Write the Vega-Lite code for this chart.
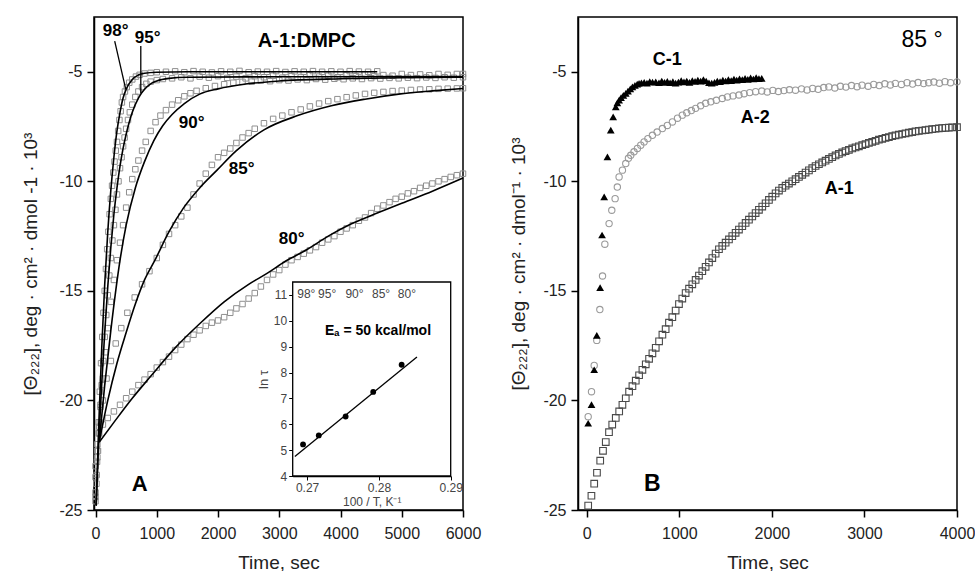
{
"$schema": "https://vega.github.io/schema/vega-lite/v6.json",
"padding": {"left": 21, "top": 16, "right": 5, "bottom": 0},
"spacing": 27,
"config": {
  "view": {"stroke": "black", "strokeWidth": 1.5},
  "axis": {"grid": false, "labelFont": "Liberation Sans", "labelFontSize": 16, "labelColor": "#222", "titleFont": "Liberation Sans", "titleFontSize": 19, "titleFontWeight": "normal", "titleColor": "#222", "tickSize": 7, "labelPadding": 5, "titlePadding": 8, "domainColor": "black", "tickColor": "black", "domainWidth": 1.5, "tickWidth": 1.5, "labelFlush": false, "labelOverlap": false},
  "text": {"font": "Liberation Sans", "color": "black"},
  "locale": {"number": {"decimal": ".", "thousands": ",", "grouping": [3], "currency": ["$", ""], "minus": "-"}}
},
"datasets": {
  "Asq": [
    {"s":"98","t":0,"v":-24.6},{"s":"98","t":15,"v":-23.8},{"s":"98","t":30,"v":-22.6},{"s":"98","t":50,"v":-21.0},{"s":"98","t":70,"v":-19.6},{"s":"98","t":90,"v":-18.3},{"s":"98","t":110,"v":-17.1},{"s":"98","t":130,"v":-16.0},{"s":"98","t":150,"v":-15.0},{"s":"98","t":170,"v":-14.0},{"s":"98","t":190,"v":-13.1},{"s":"98","t":210,"v":-12.3},{"s":"98","t":230,"v":-11.5},{"s":"98","t":250,"v":-10.8},{"s":"98","t":270,"v":-10.2},{"s":"98","t":290,"v":-9.6},{"s":"98","t":310,"v":-9.1},{"s":"98","t":330,"v":-8.6},{"s":"98","t":350,"v":-8.2},{"s":"98","t":370,"v":-7.7},{"s":"98","t":390,"v":-7.2},{"s":"98","t":410,"v":-6.8},{"s":"98","t":430,"v":-6.4},{"s":"98","t":450,"v":-6.15},{"s":"98","t":480,"v":-5.9},{"s":"98","t":510,"v":-5.7},{"s":"98","t":550,"v":-5.5},{"s":"98","t":600,"v":-5.35},{"s":"98","t":660,"v":-5.22},{"s":"98","t":720,"v":-5.14},{"s":"98","t":800,"v":-5.08},{"s":"98","t":900,"v":-5.05},{"s":"98","t":1000,"v":-5.02},{"s":"98","t":1150,"v":-5.0},{"s":"98","t":1300,"v":-4.98},{"s":"98","t":1450,"v":-5.02},{"s":"98","t":1600,"v":-4.97},{"s":"98","t":1750,"v":-5.0},{"s":"98","t":1900,"v":-5.03},{"s":"98","t":2050,"v":-4.98},{"s":"98","t":2200,"v":-5.0},{"s":"98","t":2350,"v":-4.96},{"s":"98","t":2500,"v":-5.02},{"s":"98","t":2650,"v":-4.99},{"s":"98","t":2800,"v":-5.0},{"s":"98","t":2950,"v":-4.97},{"s":"98","t":3100,"v":-5.01},{"s":"98","t":3250,"v":-4.98},{"s":"98","t":3400,"v":-5.0},{"s":"98","t":3550,"v":-4.97},{"s":"98","t":3700,"v":-5.0},{"s":"98","t":3850,"v":-4.98},{"s":"98","t":4000,"v":-5.0},{"s":"98","t":4150,"v":-4.97},{"s":"98","t":4300,"v":-4.99},{"s":"98","t":4450,"v":-5.0},{"s":"98","t":4600,"v":-4.98},
    {"s":"95","t":0,"v":-24.4},{"s":"95","t":20,"v":-23.4},{"s":"95","t":40,"v":-22.3},{"s":"95","t":60,"v":-21.2},{"s":"95","t":80,"v":-20.2},{"s":"95","t":100,"v":-19.3},{"s":"95","t":125,"v":-18.2},{"s":"95","t":150,"v":-17.1},{"s":"95","t":175,"v":-16.1},{"s":"95","t":200,"v":-15.2},{"s":"95","t":225,"v":-14.3},{"s":"95","t":250,"v":-13.5},{"s":"95","t":275,"v":-12.7},{"s":"95","t":300,"v":-12.0},{"s":"95","t":325,"v":-11.3},{"s":"95","t":350,"v":-10.6},{"s":"95","t":375,"v":-10.0},{"s":"95","t":400,"v":-9.4},{"s":"95","t":425,"v":-8.9},{"s":"95","t":450,"v":-8.4},{"s":"95","t":475,"v":-8.0},{"s":"95","t":500,"v":-7.6},{"s":"95","t":530,"v":-7.2},{"s":"95","t":560,"v":-6.85},{"s":"95","t":600,"v":-6.5},{"s":"95","t":650,"v":-6.15},{"s":"95","t":700,"v":-5.9},{"s":"95","t":760,"v":-5.7},{"s":"95","t":830,"v":-5.55},{"s":"95","t":900,"v":-5.45},{"s":"95","t":1000,"v":-5.38},{"s":"95","t":1100,"v":-5.33},{"s":"95","t":1250,"v":-5.3},{"s":"95","t":1400,"v":-5.25},{"s":"95","t":1550,"v":-5.3},{"s":"95","t":1700,"v":-5.22},{"s":"95","t":1850,"v":-5.27},{"s":"95","t":2000,"v":-5.2},{"s":"95","t":2150,"v":-5.28},{"s":"95","t":2300,"v":-5.22},{"s":"95","t":2450,"v":-5.3},{"s":"95","t":2600,"v":-5.2},{"s":"95","t":2750,"v":-5.25},{"s":"95","t":2900,"v":-5.18},{"s":"95","t":3050,"v":-5.27},{"s":"95","t":3200,"v":-5.2},{"s":"95","t":3350,"v":-5.24},{"s":"95","t":3500,"v":-5.15},{"s":"95","t":3650,"v":-5.22},{"s":"95","t":3800,"v":-5.18},{"s":"95","t":3950,"v":-5.25},{"s":"95","t":4100,"v":-5.15},{"s":"95","t":4250,"v":-5.2},{"s":"95","t":4400,"v":-5.12},{"s":"95","t":4550,"v":-5.2},{"s":"95","t":4700,"v":-5.15},{"s":"95","t":4850,"v":-5.18},{"s":"95","t":5000,"v":-5.1},{"s":"95","t":5150,"v":-5.15},{"s":"95","t":5300,"v":-5.12},{"s":"95","t":5450,"v":-5.16},{"s":"95","t":5600,"v":-5.1},{"s":"95","t":5750,"v":-5.14},{"s":"95","t":5900,"v":-5.1},{"s":"95","t":6000,"v":-5.1},
    {"s":"90","t":0,"v":-24.2},{"s":"90","t":25,"v":-22.8},{"s":"90","t":50,"v":-21.5},{"s":"90","t":80,"v":-20.3},{"s":"90","t":120,"v":-19.0},{"s":"90","t":160,"v":-17.8},{"s":"90","t":200,"v":-16.7},{"s":"90","t":250,"v":-15.5},{"s":"90","t":300,"v":-14.5},{"s":"90","t":350,"v":-13.6},{"s":"90","t":400,"v":-12.8},{"s":"90","t":450,"v":-12.0},{"s":"90","t":500,"v":-11.2},{"s":"90","t":550,"v":-10.5},{"s":"90","t":600,"v":-9.9},{"s":"90","t":650,"v":-9.45},{"s":"90","t":700,"v":-9.05},{"s":"90","t":760,"v":-8.6},{"s":"90","t":820,"v":-8.2},{"s":"90","t":900,"v":-7.7},{"s":"90","t":980,"v":-7.3},{"s":"90","t":1060,"v":-7.0},{"s":"90","t":1150,"v":-6.75},{"s":"90","t":1250,"v":-6.5},{"s":"90","t":1350,"v":-6.3},{"s":"90","t":1450,"v":-6.12},{"s":"90","t":1550,"v":-5.98},{"s":"90","t":1650,"v":-5.87},{"s":"90","t":1800,"v":-5.75},{"s":"90","t":1950,"v":-5.65},{"s":"90","t":2100,"v":-5.57},{"s":"90","t":2250,"v":-5.5},{"s":"90","t":2400,"v":-5.46},{"s":"90","t":2550,"v":-5.45},{"s":"90","t":2700,"v":-5.4},{"s":"90","t":2850,"v":-5.43},{"s":"90","t":3000,"v":-5.38},{"s":"90","t":3150,"v":-5.4},{"s":"90","t":3300,"v":-5.35},{"s":"90","t":3450,"v":-5.38},{"s":"90","t":3600,"v":-5.33},{"s":"90","t":3750,"v":-5.36},{"s":"90","t":3900,"v":-5.32},{"s":"90","t":4050,"v":-5.34},{"s":"90","t":4200,"v":-5.3},{"s":"90","t":4350,"v":-5.33},{"s":"90","t":4500,"v":-5.29},{"s":"90","t":4650,"v":-5.31},{"s":"90","t":4800,"v":-5.28},{"s":"90","t":4950,"v":-5.3},{"s":"90","t":5100,"v":-5.27},{"s":"90","t":5250,"v":-5.29},{"s":"90","t":5400,"v":-5.26},{"s":"90","t":5550,"v":-5.28},{"s":"90","t":5700,"v":-5.25},{"s":"90","t":5850,"v":-5.27},{"s":"90","t":6000,"v":-5.25},
    {"s":"85","t":0,"v":-23.5},{"s":"85","t":30,"v":-22.3},{"s":"85","t":70,"v":-21.0},{"s":"85","t":120,"v":-20.0},{"s":"85","t":180,"v":-19.0},{"s":"85","t":250,"v":-18.2},{"s":"85","t":330,"v":-17.4},{"s":"85","t":420,"v":-16.7},{"s":"85","t":520,"v":-16.0},{"s":"85","t":640,"v":-15.3},{"s":"85","t":760,"v":-14.7},{"s":"85","t":880,"v":-14.1},{"s":"85","t":1000,"v":-13.5},{"s":"85","t":1100,"v":-12.9},{"s":"85","t":1200,"v":-12.4},{"s":"85","t":1300,"v":-12.0},{"s":"85","t":1400,"v":-11.6},{"s":"85","t":1500,"v":-11.2},{"s":"85","t":1600,"v":-10.6},{"s":"85","t":1700,"v":-10.1},{"s":"85","t":1800,"v":-9.65},{"s":"85","t":1900,"v":-9.25},{"s":"85","t":2000,"v":-8.9},{"s":"85","t":2100,"v":-8.7},{"s":"85","t":2200,"v":-8.5},{"s":"85","t":2300,"v":-8.25},{"s":"85","t":2400,"v":-8.0},{"s":"85","t":2500,"v":-7.8},{"s":"85","t":2600,"v":-7.6},{"s":"85","t":2750,"v":-7.35},{"s":"85","t":2900,"v":-7.15},{"s":"85","t":3050,"v":-7.0},{"s":"85","t":3200,"v":-6.85},{"s":"85","t":3350,"v":-6.72},{"s":"85","t":3500,"v":-6.58},{"s":"85","t":3650,"v":-6.45},{"s":"85","t":3800,"v":-6.34},{"s":"85","t":3950,"v":-6.25},{"s":"85","t":4100,"v":-6.16},{"s":"85","t":4250,"v":-6.08},{"s":"85","t":4400,"v":-6.01},{"s":"85","t":4550,"v":-5.96},{"s":"85","t":4700,"v":-5.92},{"s":"85","t":4850,"v":-5.88},{"s":"85","t":5000,"v":-5.86},{"s":"85","t":5150,"v":-5.83},{"s":"85","t":5300,"v":-5.81},{"s":"85","t":5450,"v":-5.8},{"s":"85","t":5600,"v":-5.78},{"s":"85","t":5750,"v":-5.77},{"s":"85","t":5900,"v":-5.76},{"s":"85","t":6000,"v":-5.75},
    {"s":"80","t":0,"v":-23.0},{"s":"80","t":30,"v":-22.0},{"s":"80","t":60,"v":-21.5},{"s":"80","t":120,"v":-21.1},{"s":"80","t":200,"v":-20.8},{"s":"80","t":300,"v":-20.5},{"s":"80","t":400,"v":-20.2},{"s":"80","t":500,"v":-19.9},{"s":"80","t":600,"v":-19.6},{"s":"80","t":700,"v":-19.3},{"s":"80","t":800,"v":-19.05},{"s":"80","t":900,"v":-18.8},{"s":"80","t":1000,"v":-18.5},{"s":"80","t":1100,"v":-18.25},{"s":"80","t":1200,"v":-18.0},{"s":"80","t":1300,"v":-17.7},{"s":"80","t":1400,"v":-17.45},{"s":"80","t":1500,"v":-17.2},{"s":"80","t":1600,"v":-17.0},{"s":"80","t":1700,"v":-16.8},{"s":"80","t":1800,"v":-16.6},{"s":"80","t":1900,"v":-16.45},{"s":"80","t":2000,"v":-16.35},{"s":"80","t":2100,"v":-16.2},{"s":"80","t":2200,"v":-16.0},{"s":"80","t":2300,"v":-15.8},{"s":"80","t":2400,"v":-15.6},{"s":"80","t":2500,"v":-15.35},{"s":"80","t":2600,"v":-15.1},{"s":"80","t":2700,"v":-14.8},{"s":"80","t":2800,"v":-14.5},{"s":"80","t":2900,"v":-14.25},{"s":"80","t":3000,"v":-14.05},{"s":"80","t":3100,"v":-13.8},{"s":"80","t":3200,"v":-13.6},{"s":"80","t":3300,"v":-13.45},{"s":"80","t":3400,"v":-13.3},{"s":"80","t":3500,"v":-13.15},{"s":"80","t":3600,"v":-13.0},{"s":"80","t":3700,"v":-12.8},{"s":"80","t":3800,"v":-12.65},{"s":"80","t":3900,"v":-12.5},{"s":"80","t":4000,"v":-12.3},{"s":"80","t":4100,"v":-12.15},{"s":"80","t":4200,"v":-12.0},{"s":"80","t":4300,"v":-11.8},{"s":"80","t":4400,"v":-11.65},{"s":"80","t":4500,"v":-11.45},{"s":"80","t":4600,"v":-11.25},{"s":"80","t":4700,"v":-11.1},{"s":"80","t":4800,"v":-10.95},{"s":"80","t":4900,"v":-10.8},{"s":"80","t":5000,"v":-10.7},{"s":"80","t":5100,"v":-10.55},{"s":"80","t":5200,"v":-10.45},{"s":"80","t":5300,"v":-10.3},{"s":"80","t":5400,"v":-10.2},{"s":"80","t":5500,"v":-10.1},{"s":"80","t":5600,"v":-10.0},{"s":"80","t":5700,"v":-9.9},{"s":"80","t":5800,"v":-9.8},{"s":"80","t":5900,"v":-9.72},{"s":"80","t":6000,"v":-9.65}
  ],
  "Afit": [
    {"s":"98","t":10,"v":-24.8},{"s":"98","t":50,"v":-21.3},{"s":"98","t":100,"v":-17.7},{"s":"98","t":150,"v":-14.7},{"s":"98","t":200,"v":-12.3},{"s":"98","t":250,"v":-10.4},{"s":"98","t":300,"v":-8.9},{"s":"98","t":350,"v":-7.7},{"s":"98","t":400,"v":-6.85},{"s":"98","t":450,"v":-6.2},{"s":"98","t":500,"v":-5.8},{"s":"98","t":600,"v":-5.35},{"s":"98","t":700,"v":-5.15},{"s":"98","t":800,"v":-5.07},{"s":"98","t":1000,"v":-5.02},{"s":"98","t":1500,"v":-5.0},{"s":"98","t":4600,"v":-5.0},
    {"s":"95","t":10,"v":-24.8},{"s":"95","t":50,"v":-22.0},{"s":"95","t":100,"v":-19.3},{"s":"95","t":150,"v":-16.9},{"s":"95","t":200,"v":-14.8},{"s":"95","t":250,"v":-13.0},{"s":"95","t":300,"v":-11.5},{"s":"95","t":350,"v":-10.3},{"s":"95","t":400,"v":-9.3},{"s":"95","t":450,"v":-8.5},{"s":"95","t":500,"v":-7.85},{"s":"95","t":550,"v":-7.3},{"s":"95","t":600,"v":-6.85},{"s":"95","t":700,"v":-6.2},{"s":"95","t":800,"v":-5.8},{"s":"95","t":900,"v":-5.55},{"s":"95","t":1000,"v":-5.42},{"s":"95","t":1200,"v":-5.3},{"s":"95","t":1500,"v":-5.25},{"s":"95","t":3000,"v":-5.23},{"s":"95","t":6000,"v":-5.22},
    {"s":"90","t":60,"v":-21.9},{"s":"90","t":150,"v":-19.3},{"s":"90","t":250,"v":-16.8},{"s":"90","t":400,"v":-13.6},{"s":"90","t":500,"v":-12.0},{"s":"90","t":650,"v":-10.3},{"s":"90","t":800,"v":-9.1},{"s":"90","t":950,"v":-8.15},{"s":"90","t":1100,"v":-7.45},{"s":"90","t":1250,"v":-6.95},{"s":"90","t":1450,"v":-6.45},{"s":"90","t":1700,"v":-6.02},{"s":"90","t":2000,"v":-5.78},{"s":"90","t":2450,"v":-5.56},{"s":"90","t":3000,"v":-5.42},{"s":"90","t":4000,"v":-5.32},{"s":"90","t":5000,"v":-5.27},{"s":"90","t":6000,"v":-5.25},
    {"s":"85","t":60,"v":-21.9},{"s":"85","t":200,"v":-20.0},{"s":"85","t":350,"v":-18.3},{"s":"85","t":500,"v":-16.9},{"s":"85","t":650,"v":-15.6},{"s":"85","t":800,"v":-14.5},{"s":"85","t":970,"v":-13.6},{"s":"85","t":1200,"v":-12.3},{"s":"85","t":1440,"v":-11.2},{"s":"85","t":1700,"v":-10.3},{"s":"85","t":1980,"v":-9.5},{"s":"85","t":2300,"v":-8.6},{"s":"85","t":2750,"v":-7.65},{"s":"85","t":3300,"v":-7.0},{"s":"85","t":3850,"v":-6.55},{"s":"85","t":4400,"v":-6.25},{"s":"85","t":4950,"v":-6.02},{"s":"85","t":5500,"v":-5.87},{"s":"85","t":6000,"v":-5.76},
    {"s":"80","t":60,"v":-21.9},{"s":"80","t":300,"v":-21.0},{"s":"80","t":600,"v":-19.9},{"s":"80","t":900,"v":-18.9},{"s":"80","t":1300,"v":-17.6},{"s":"80","t":1700,"v":-16.5},{"s":"80","t":2100,"v":-15.5},{"s":"80","t":2500,"v":-14.7},{"s":"80","t":2800,"v":-14.2},{"s":"80","t":3100,"v":-13.65},{"s":"80","t":3460,"v":-13.1},{"s":"80","t":3800,"v":-12.5},{"s":"80","t":4170,"v":-11.95},{"s":"80","t":4600,"v":-11.45},{"s":"80","t":5000,"v":-11.0},{"s":"80","t":5500,"v":-10.45},{"s":"80","t":6000,"v":-9.85}
  ],
  "Alab": [
    {"t":329,"v":-3.14,"label":"98°"},{"t":852,"v":-3.46,"label":"95°"},{"t":1570,"v":-7.34,"label":"90°"},{"t":2387,"v":-9.44,"label":"85°"},{"t":3203,"v":-12.63,"label":"80°"}
  ],
  "Alead": [
    {"t":313,"v":-3.6,"t2":493,"v2":-5.79},{"t":739,"v":-3.82,"t2":739,"v2":-5.97}
  ],
  "Ins": [
    {"x":0.26944,"lnt":5.22},{"x":0.27163,"lnt":5.57},{"x":0.27537,"lnt":6.3},{"x":0.27921,"lnt":7.25},{"x":0.28317,"lnt":8.3}
  ],
  "InsFit": [
    {"x":0.2683,"lnt":4.75},{"x":0.2853,"lnt":8.6}
  ],
  "InsTop": [
    {"x":0.2699,"label":"98°"},{"x":0.2728,"label":"95°"},{"x":0.2766,"label":"90°"},{"x":0.2803,"label":"85°"},{"x":0.2839,"label":"80°"}
  ],
  "BA1": [
    {"t":15,"v":-24.8},{"t":50,"v":-24.35},{"t":80,"v":-23.8},{"t":110,"v":-23.3},{"t":145,"v":-22.75},{"t":175,"v":-22.3},{"t":205,"v":-21.9},{"t":240,"v":-21.45},{"t":275,"v":-21.1},{"t":313,"v":-20.8},{"t":350,"v":-20.5},{"t":385,"v":-20.2},{"t":421,"v":-19.9},{"t":457,"v":-19.6},{"t":493,"v":-19.35},{"t":529,"v":-19.1},{"t":565,"v":-18.85},{"t":601,"v":-18.6},{"t":637,"v":-18.35},{"t":673,"v":-18.1},{"t":709,"v":-17.85},{"t":745,"v":-17.6},{"t":781,"v":-17.3},{"t":817,"v":-17.0},{"t":852,"v":-16.75},{"t":888,"v":-16.45},{"t":924,"v":-16.2},{"t":960,"v":-15.9},{"t":996,"v":-15.6},{"t":1032,"v":-15.35},{"t":1068,"v":-15.1},{"t":1105,"v":-14.9},{"t":1140,"v":-14.7},{"t":1176,"v":-14.5},{"t":1212,"v":-14.3},{"t":1248,"v":-14.1},{"t":1284,"v":-13.9},{"t":1320,"v":-13.7},{"t":1356,"v":-13.5},{"t":1392,"v":-13.3},{"t":1428,"v":-13.1},{"t":1464,"v":-12.95},{"t":1500,"v":-12.8},{"t":1536,"v":-12.65},{"t":1572,"v":-12.5},{"t":1608,"v":-12.35},{"t":1644,"v":-12.2},{"t":1680,"v":-12.05},{"t":1716,"v":-11.9},{"t":1752,"v":-11.75},{"t":1788,"v":-11.6},{"t":1824,"v":-11.45},{"t":1860,"v":-11.3},{"t":1896,"v":-11.15},{"t":1932,"v":-11.0},{"t":1968,"v":-10.85},{"t":2004,"v":-10.7},{"t":2040,"v":-10.55},{"t":2076,"v":-10.42},{"t":2112,"v":-10.3},{"t":2148,"v":-10.2},{"t":2184,"v":-10.1},{"t":2220,"v":-10.0},{"t":2256,"v":-9.9},{"t":2292,"v":-9.8},{"t":2328,"v":-9.7},{"t":2364,"v":-9.6},{"t":2400,"v":-9.5},{"t":2436,"v":-9.4},{"t":2472,"v":-9.3},{"t":2508,"v":-9.22},{"t":2544,"v":-9.14},{"t":2580,"v":-9.06},{"t":2616,"v":-8.98},{"t":2652,"v":-8.9},{"t":2688,"v":-8.82},{"t":2724,"v":-8.75},{"t":2760,"v":-8.68},{"t":2796,"v":-8.62},{"t":2832,"v":-8.56},{"t":2868,"v":-8.5},{"t":2904,"v":-8.45},{"t":2940,"v":-8.4},{"t":2976,"v":-8.35},{"t":3012,"v":-8.3},{"t":3048,"v":-8.25},{"t":3084,"v":-8.2},{"t":3120,"v":-8.15},{"t":3156,"v":-8.1},{"t":3192,"v":-8.06},{"t":3228,"v":-8.02},{"t":3264,"v":-7.98},{"t":3300,"v":-7.94},{"t":3336,"v":-7.9},{"t":3372,"v":-7.87},{"t":3408,"v":-7.84},{"t":3444,"v":-7.81},{"t":3480,"v":-7.78},{"t":3516,"v":-7.75},{"t":3552,"v":-7.72},{"t":3588,"v":-7.7},{"t":3624,"v":-7.68},{"t":3660,"v":-7.66},{"t":3696,"v":-7.64},{"t":3732,"v":-7.62},{"t":3768,"v":-7.6},{"t":3804,"v":-7.58},{"t":3840,"v":-7.57},{"t":3876,"v":-7.56},{"t":3912,"v":-7.55},{"t":3948,"v":-7.54},{"t":4000,"v":-7.53}
  ],
  "BA2": [
    {"t":15,"v":-20.74},{"t":51,"v":-19.6},{"t":80,"v":-18.4},{"t":108,"v":-17.26},{"t":141,"v":-15.85},{"t":170,"v":-14.32},{"t":195,"v":-12.87},{"t":241,"v":-11.93},{"t":270,"v":-11.32},{"t":306,"v":-10.79},{"t":330,"v":-10.26},{"t":349,"v":-9.8},{"t":385,"v":-9.49},{"t":421,"v":-9.19},{"t":450,"v":-8.95},{"t":475,"v":-8.81},{"t":510,"v":-8.65},{"t":547,"v":-8.5},{"t":583,"v":-8.35},{"t":619,"v":-8.2},{"t":660,"v":-8.05},{"t":709,"v":-7.9},{"t":760,"v":-7.75},{"t":817,"v":-7.59},{"t":870,"v":-7.45},{"t":925,"v":-7.29},{"t":980,"v":-7.12},{"t":1032,"v":-6.98},{"t":1080,"v":-6.87},{"t":1130,"v":-6.77},{"t":1176,"v":-6.67},{"t":1230,"v":-6.55},{"t":1284,"v":-6.44},{"t":1340,"v":-6.37},{"t":1400,"v":-6.3},{"t":1464,"v":-6.22},{"t":1520,"v":-6.15},{"t":1580,"v":-6.1},{"t":1644,"v":-6.06},{"t":1700,"v":-6.0},{"t":1760,"v":-5.95},{"t":1824,"v":-5.91},{"t":1890,"v":-5.88},{"t":1950,"v":-5.92},{"t":2010,"v":-5.85},{"t":2070,"v":-5.9},{"t":2130,"v":-5.86},{"t":2190,"v":-5.82},{"t":2255,"v":-5.84},{"t":2320,"v":-5.78},{"t":2380,"v":-5.83},{"t":2440,"v":-5.76},{"t":2500,"v":-5.8},{"t":2560,"v":-5.72},{"t":2615,"v":-5.69},{"t":2680,"v":-5.74},{"t":2740,"v":-5.66},{"t":2800,"v":-5.7},{"t":2860,"v":-5.63},{"t":2920,"v":-5.68},{"t":2974,"v":-5.61},{"t":3040,"v":-5.66},{"t":3100,"v":-5.58},{"t":3160,"v":-5.63},{"t":3220,"v":-5.55},{"t":3280,"v":-5.6},{"t":3334,"v":-5.53},{"t":3400,"v":-5.58},{"t":3460,"v":-5.5},{"t":3520,"v":-5.56},{"t":3580,"v":-5.49},{"t":3640,"v":-5.54},{"t":3694,"v":-5.5},{"t":3750,"v":-5.47},{"t":3810,"v":-5.52},{"t":3870,"v":-5.45},{"t":3930,"v":-5.5},{"t":4000,"v":-5.46}
  ],
  "BC1": [
    {"t":15,"v":-21.04},{"t":51,"v":-20.19},{"t":80,"v":-18.6},{"t":108,"v":-17.03},{"t":144,"v":-14.85},{"t":165,"v":-12.45},{"t":188,"v":-10.71},{"t":223,"v":-8.88},{"t":259,"v":-7.66},{"t":285,"v":-7.06},{"t":313,"v":-6.6},{"t":330,"v":-6.42},{"t":349,"v":-6.29},{"t":370,"v":-6.18},{"t":395,"v":-6.08},{"t":421,"v":-5.99},{"t":445,"v":-5.88},{"t":470,"v":-5.78},{"t":493,"v":-5.69},{"t":520,"v":-5.62},{"t":545,"v":-5.56},{"t":565,"v":-5.53},{"t":590,"v":-5.5},{"t":620,"v":-5.48},{"t":650,"v":-5.52},{"t":680,"v":-5.45},{"t":710,"v":-5.47},{"t":745,"v":-5.46},{"t":780,"v":-5.5},{"t":810,"v":-5.42},{"t":840,"v":-5.48},{"t":870,"v":-5.44},{"t":900,"v":-5.5},{"t":930,"v":-5.45},{"t":960,"v":-5.52},{"t":990,"v":-5.47},{"t":1020,"v":-5.4},{"t":1050,"v":-5.46},{"t":1080,"v":-5.42},{"t":1110,"v":-5.48},{"t":1140,"v":-5.4},{"t":1170,"v":-5.44},{"t":1200,"v":-5.38},{"t":1230,"v":-5.43},{"t":1260,"v":-5.36},{"t":1290,"v":-5.42},{"t":1320,"v":-5.5},{"t":1350,"v":-5.52},{"t":1380,"v":-5.48},{"t":1410,"v":-5.42},{"t":1440,"v":-5.45},{"t":1470,"v":-5.38},{"t":1500,"v":-5.42},{"t":1530,"v":-5.36},{"t":1560,"v":-5.4},{"t":1590,"v":-5.33},{"t":1620,"v":-5.38},{"t":1650,"v":-5.32},{"t":1680,"v":-5.36},{"t":1710,"v":-5.3},{"t":1740,"v":-5.35},{"t":1770,"v":-5.28},{"t":1800,"v":-5.33},{"t":1830,"v":-5.27},{"t":1860,"v":-5.31},{"t":1890,"v":-5.3}
  ],
  "Blab": [
    {"t":870,"v":-4.48,"label":"C-1"},{"t":1820,"v":-7.09,"label":"A-2"},{"t":2727,"v":-10.33,"label":"A-1"}
  ]
},
"hconcat": [
  {
    "width": 369, "height": 493,
    "layer": [
      {"layer": [
        {"data": {"name": "Asq"}, "mark": {"type": "point", "shape": "square", "filled": false, "size": 30, "strokeWidth": 1, "color": "#8f8f8f", "opacity": 1},
         "encoding": {
           "x": {"field": "t", "type": "quantitative", "scale": {"domain": [-25, 6000], "nice": false, "zero": false}, "axis": {"values": [0,1000,2000,3000,4000,5000,6000], "format": "d", "title": "Time, sec", "labelPadding": 8, "titlePadding": 12}},
           "y": {"field": "v", "type": "quantitative", "scale": {"domain": [-25, -2.5], "nice": false, "zero": false}, "axis": {"values": [-25,-20,-15,-10,-5], "format": "d", "title": "[Θ₂₂₂], deg · cm² · dmol -1 · 10³", "titlePadding": 18}},
           "detail": {"field": "s"}}},
        {"data": {"name": "Afit"}, "mark": {"type": "line", "color": "black", "strokeWidth": 1.6, "interpolate": "monotone"},
         "encoding": {"x": {"field": "t", "type": "quantitative"}, "y": {"field": "v", "type": "quantitative"}, "detail": {"field": "s"}}},
        {"data": {"name": "Alead"}, "mark": {"type": "rule", "color": "black", "strokeWidth": 1.3},
         "encoding": {"x": {"field": "t", "type": "quantitative"}, "y": {"field": "v", "type": "quantitative"}, "x2": {"field": "t2"}, "y2": {"field": "v2"}}},
        {"data": {"name": "Alab"}, "mark": {"type": "text", "fontWeight": "bold", "fontSize": 17},
         "encoding": {"x": {"field": "t", "type": "quantitative"}, "y": {"field": "v", "type": "quantitative"}, "text": {"field": "label"}}},
        {"data": {"values": [{"t": 3448, "v": -3.6, "label": "A-1:DMPC"}]}, "mark": {"type": "text", "fontWeight": "bold", "fontSize": 20},
         "encoding": {"x": {"field": "t", "type": "quantitative"}, "y": {"field": "v", "type": "quantitative"}, "text": {"field": "label"}}},
        {"data": {"values": [{"t": 721, "v": -23.81, "label": "A"}]}, "mark": {"type": "text", "fontWeight": "bold", "fontSize": 22},
         "encoding": {"x": {"field": "t", "type": "quantitative"}, "y": {"field": "v", "type": "quantitative"}, "text": {"field": "label"}}}
      ]},
      {"layer": [
        {"data": {"values": [{"x0": 0.268, "x1": 0.29, "y0": 4, "y1": 11.5}]}, "mark": {"type": "rect", "fill": "white", "stroke": "black", "strokeWidth": 1.3},
         "encoding": {
           "x": {"field": "x0", "type": "quantitative", "scale": {"domain": [0.268, 0.29], "range": [198.7, 356.7], "nice": false, "zero": false},
                 "axis": {"orient": "bottom", "offset": -34, "values": [0.27, 0.28, 0.29], "format": ".2f", "title": "100 / T, K⁻¹", "labelFontSize": 12, "titleFontSize": 12, "labelColor": "#444", "titleColor": "#444", "tickSize": 4, "labelPadding": 2, "titlePadding": 3, "domainWidth": 1.3, "tickWidth": 1}},
           "x2": {"field": "x1"},
           "y": {"field": "y0", "type": "quantitative", "scale": {"domain": [4, 11.5], "range": [459, 265], "nice": false, "zero": false},
                 "axis": {"orient": "left", "offset": -198.7, "values": [4,5,6,7,8,9,10,11], "format": "d", "title": "ln τ", "labelFontSize": 12, "titleFontSize": 13, "labelColor": "#444", "titleColor": "#444", "tickSize": 4, "labelPadding": 2, "titlePadding": 3, "domainWidth": 1.3, "tickWidth": 1}},
           "y2": {"field": "y1"}}},
        {"data": {"name": "InsFit"}, "mark": {"type": "line", "color": "black", "strokeWidth": 1.3},
         "encoding": {"x": {"field": "x", "type": "quantitative"}, "y": {"field": "lnt", "type": "quantitative"}}},
        {"data": {"name": "Ins"}, "mark": {"type": "point", "shape": "circle", "filled": true, "color": "black", "size": 34, "opacity": 1},
         "encoding": {"x": {"field": "x", "type": "quantitative"}, "y": {"field": "lnt", "type": "quantitative"}}},
        {"data": {"name": "InsTop"}, "mark": {"type": "text", "fontSize": 12, "color": "#444"},
         "encoding": {"x": {"field": "x", "type": "quantitative"}, "y": {"datum": 11.02, "type": "quantitative"}, "text": {"field": "label"}}},
        {"data": {"values": [{"x": 0.27988, "lnt": 9.6, "label": "Eₐ = 50 kcal/mol"}]}, "mark": {"type": "text", "fontSize": 14, "fontWeight": "bold"},
         "encoding": {"x": {"field": "x", "type": "quantitative"}, "y": {"field": "lnt", "type": "quantitative"}, "text": {"field": "label"}}}
      ]}
    ],
    "resolve": {"scale": {"x": "independent", "y": "independent"}}
  },
  {
    "width": 379, "height": 493,
    "layer": [
      {"data": {"name": "BA1"}, "mark": {"type": "point", "shape": "square", "filled": false, "size": 44, "strokeWidth": 1.1, "color": "#4a4a4a", "opacity": 1},
       "encoding": {
         "x": {"field": "t", "type": "quantitative", "scale": {"domain": [-95, 4000], "nice": false, "zero": false}, "axis": {"values": [0,1000,2000,3000,4000], "format": "d", "title": "Time, sec", "labelPadding": 8, "titlePadding": 12}},
         "y": {"field": "v", "type": "quantitative", "scale": {"domain": [-25, -2.5], "nice": false, "zero": false}, "axis": {"values": [-25,-20,-15,-10,-5], "format": "d", "title": "[Θ₂₂₂], deg · cm² · dmol⁻¹ · 10³", "titlePadding": 14}}}},
      {"data": {"name": "BA2"}, "mark": {"type": "point", "shape": "circle", "filled": false, "size": 40, "strokeWidth": 1.1, "color": "#9a9a9a", "opacity": 1},
       "encoding": {"x": {"field": "t", "type": "quantitative"}, "y": {"field": "v", "type": "quantitative"}}},
      {"data": {"name": "BC1"}, "mark": {"type": "point", "shape": "triangle-up", "filled": true, "size": 60, "color": "black", "opacity": 1},
       "encoding": {"x": {"field": "t", "type": "quantitative"}, "y": {"field": "v", "type": "quantitative"}}},
      {"data": {"name": "Blab"}, "mark": {"type": "text", "fontWeight": "bold", "fontSize": 18},
       "encoding": {"x": {"field": "t", "type": "quantitative"}, "y": {"field": "v", "type": "quantitative"}, "text": {"field": "label"}}},
      {"data": {"values": [{"t": 3622, "v": -3.56, "label": "85 °"}]}, "mark": {"type": "text", "fontSize": 23},
       "encoding": {"x": {"field": "t", "type": "quantitative"}, "y": {"field": "v", "type": "quantitative"}, "text": {"field": "label"}}},
      {"data": {"values": [{"t": 708, "v": -23.8, "label": "B"}]}, "mark": {"type": "text", "fontWeight": "bold", "fontSize": 23},
       "encoding": {"x": {"field": "t", "type": "quantitative"}, "y": {"field": "v", "type": "quantitative"}, "text": {"field": "label"}}}
    ]
  }
]
}
